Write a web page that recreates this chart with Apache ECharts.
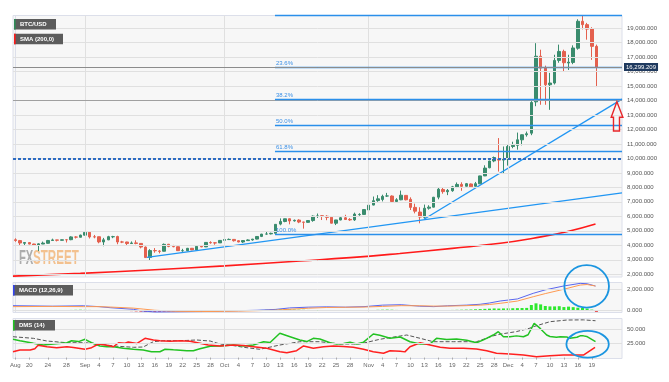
<!DOCTYPE html>
<html><head><meta charset="utf-8">
<script src="https://cdn.jsdelivr.net/npm/echarts@6/dist/echarts.min.js"></script>
<style>html,body{margin:0;padding:0;background:#fff}#c{width:669px;height:382px}</style>
</head><body><div id="c"></div>
<script>
// ---------- DATA ----------
const startDate = '2017-08-17';
const dayCount = 131; // Aug 17 .. Dec 25 (axis room to the right of last candle)
const categories = (function () {
  const out = []; const d = new Date(startDate + 'T00:00:00Z');
  for (let i = 0; i < dayCount; i++) {
    const m = String(d.getUTCMonth() + 1).padStart(2, '0');
    const dd = String(d.getUTCDate()).padStart(2, '0');
    out.push(m + '-' + dd); d.setUTCDate(d.getUTCDate() + 1);
  }
  return out;
})();

// daily candles [open, close, low, high], Aug 17 .. Dec 20
const candles = [
[4384,4331,4243,4484],[4324,4160,4015,4370],[4138,4193,3988,4220],[4189,4087,4069,4197],[4090,4001,3988,4109],
[3999,4101,3603,4137],[4089,4152,4083,4256],[4138,4334,4111,4371],[4333,4372,4300,4459],[4372,4352,4269,4379],
[4345,4382,4330,4403],[4384,4382,4193,4394],[4389,4579,4352,4625],[4570,4565,4471,4626],[4555,4703,4549,4736],
[4701,4892,4678,4910],[4901,4578,4469,4976],[4585,4582,4483,4715],[4592,4236,4139,4600],[4229,4376,3936,4512],
[4376,4597,4360,4655],[4589,4599,4491,4655],[4605,4229,4075,4661],[4229,4226,4150,4308],[4229,4122,3951,4245],
[4123,4162,4096,4268],[4168,4130,4073,4344],[4131,3882,3789,4140],[3875,3154,3140,3921],[3167,3637,2946,3734],
[3637,3625,3487,3808],[3606,3582,3445,3664],[3592,4065,3580,4123],[4073,3924,3868,4094],[3917,3905,3866,4031],
[3901,3631,3613,3916],[3628,3630,3553,3758],[3630,3792,3594,3819],[3796,3682,3666,3810],[3681,3926,3670,3950],
[3928,3892,3869,3969],[3892,4200,3880,4210],[4197,4174,4109,4279],[4171,4163,4039,4214],[4166,4338,4160,4358],
[4341,4403,4269,4410],[4395,4409,4377,4470],[4408,4318,4258,4432],[4319,4229,4210,4352],[4229,4328,4164,4362],
[4324,4370,4320,4413],[4370,4426,4320,4443],[4429,4610,4405,4624],[4615,4773,4569,4790],[4776,4782,4735,4923],
[4789,4826,4751,4873],[4829,5446,4822,5460],[5464,5647,5381,5857],[5643,5831,5591,5837],[5835,5678,5449,5850],
[5687,5725,5636,5776],[5741,5606,5528,5800],[5603,5590,5151,5620],[5584,5709,5561,5745],[5708,6011,5627,6060],
[5996,6031,5886,6194],[6037,6008,5745,6076],[6006,5930,5732,6075],[5936,5526,5508,5950],[5524,5750,5397,5754],
[5747,5904,5730,5971],[5900,5780,5760,6105],[5787,5753,5689,5876],[5754,6153,5684,6255],[6114,6130,6040,6214],
[6132,6468,6103,6480],[6440,6767,6378,6800],[6777,7078,6758,7367],[7087,7207,7002,7461],[7164,7379,7031,7492],
[7404,7407,7333,7617],[7403,7022,7000,7445],[7023,7144,7000,7253],[7141,7459,7114,7776],[7446,7143,7101,7460],
[7173,6618,6436,7312],[6618,6357,6204,6873],[6295,5950,5519,6625],[5938,6559,5844,6811],[6561,6635,6461,6764],
[6634,7316,6620,7342],[7324,7871,7176,7967],[7853,7708,7561,8004],[7697,7790,7463,7884],[7766,8037,7694,8101],
[8039,8201,7949,8336],[8205,8071,7762,8348],[8077,8254,8060,8302],[8233,8038,8020,8268],[8075,8253,8060,8374],
[8241,8790,8230,8800],[8789,9330,8776,9522],[9353,9818,9316,9830],[9823,10058,9736,10125],[9950,9880,9090,11400],
[9880,9960,8980,10820],[9960,10820,9500,10950],[10820,10900,10700,11150],[10900,11280,10600,11780],[11280,11630,10900,11650],
[11630,11700,11500,11850],[11740,13860,11600,13950],[13900,17050,13600,17950],[17050,16230,13700,17500],[16230,15080,13700,16400],
[15080,15200,13350,15900],[15200,16760,15100,17150],[16760,17380,16600,17850],[17380,16600,16000,17500],[16580,16640,16100,17150],
[16620,17620,16500,17800],[17600,19460,17500,19600],[19460,19230,18900,19850],[19230,18920,18190,19350],[18950,17730,16800,19050],
[17730,16299,14920,17850]
];
const lastPrice = 16299.209;

// SMA(200) readings [day index, value]
const smaPoints = [[-0.5,1870],[14,2060],[29,2300],[45,2580],[61.2,2920],[72,3150],[82.7,3440],[94,3790],[104.3,4140],[111.4,4490],[118.6,4940],[124.8,5470]];

// trend lines [day index, value]
const trendLow = [[28.3,3173],[130.5,7624]];
const trendHigh = [[87.9,5796],[130.5,14091]];

// Fibonacci retracement
const fibPct = [0, 23.6, 38.2, 50, 61.8, 100];
const fibHigh = 19850, fibLow = 4750;
const fibStartIdx = 55.85, fibEndIdx = 130.5;
const dottedLevel = 10000;
const grayLevel = 14000;

// y-axis ticks
const mainTicks = [2000,3000,4000,5000,6000,7000,8000,9000,10000,11000,12000,13000,14000,15000,16000,17000,18000,19000];
const macdTicks = [0, 2000];
const dmsTicks = [25, 50];

// MACD (12,26,9)
const macdHist = [60,60,50,50,40,40,50,60,60,50,50,60,70,80,90,80,70,60,60,50,40,40,30,30,20,
 -40,-60,-80,-100,-110,-100,-90,-80,-70,-60,-50,-40,-30,
 10,20,30,40,50,50,60,60,50,50,40,40,40,50,60,70,80,100,120,130,120,110,100,
 90,80,70,60,50,40,30,20,30,40,30,20,10,20,30,40,60,80,90,100,90,70,40,20,0,-20,-30,-20,0,20,40,50,60,70,80,90,100,110,130,150,170,190,210,
 200,210,220,230,240,250,260,530,690,590,440,400,400,420,340,380,330,280,250,200,100,-100];
const macdLine = [[-0.5,470],[8,420],[14.6,460],[18,380],[20.4,280],[25.4,130],[27.5,-40],[30,-120],[35,-100],[40,-80],[44,-40],[48,0],[52,40],[56,120],[59,260],[63,330],[67,360],[71,330],[75,380],[79,520],[83,560],[87,420],[90,380],[93,460],[97,520],[100,600],[102,720],[104.3,906],[108,1100],[111.4,1626],[114,1950],[117.9,2308],[121.5,2560],[123,2520],[124.8,2308]];
const macdSignal = [[-0.5,380],[8,400],[14.6,380],[18,380],[20.4,340],[25.4,240],[27.5,150],[30,40],[35,-60],[40,-80],[44,-70],[48,-40],[52,0],[56,50],[59,130],[63,230],[67,300],[71,320],[75,340],[79,400],[83,470],[87,460],[90,430],[93,430],[97,470],[100,520],[102,580],[104.3,690],[108,900],[111.4,1308],[114,1600],[117.9,2000],[121.5,2400],[123,2450],[124.8,2308]];

// DMS (14)
const diPlus = [[-0.5,32],[1,29.5],[3.9,25],[6,22],[8.2,23.8],[11.1,26],[12.1,29.5],[13.6,28],[15,32],[16.4,26],[18.2,20.3],[19.7,19],[21.1,19],[23.2,16.2],[25.4,14.5],[27.5,13.3],[29.3,10.3],[31.1,10.3],[32.2,14.5],[34,13.5],[36.9,12],[38.3,12],[39.7,15.5],[41.9,20],[44,20.3],[46.9,22],[49.1,20.3],[51.2,22],[53.4,27.8],[54.8,26.5],[56.9,42.5],[59.1,36.5],[61.2,30.8],[62.7,28],[64.1,33.7],[65.5,32.5],[67.7,26],[69.1,23.8],[70.6,24.5],[72,27],[73.4,23.8],[74.9,27],[77,41.3],[78.4,39],[80.6,33.7],[82.8,36],[84.9,27.8],[87.1,23.8],[89.2,23.8],[90.6,33.7],[92.8,31.5],[94.9,32.5],[97.1,30.5],[99.2,26],[100.7,31],[102.8,39.5],[103.9,45.3],[105,36.5],[106.4,36.5],[107.8,38],[109.3,36.5],[110.3,40],[111.6,60],[112.9,51],[114.3,39.5],[115,37],[116.4,35.5],[117.2,36.5],[118.6,36],[119.3,34],[120.8,35.5],[121.5,38],[122.2,38],[122.9,37],[124.8,28]];
const diMinus = [[-0.5,10.3],[1,13.3],[3.2,13.3],[4.2,15.6],[4.9,21.5],[6.8,19],[8.9,17.3],[11.1,19],[12.5,17.5],[15,14.5],[16.4,17.3],[17.9,23.8],[19.7,21.5],[21.1,19],[22.2,26],[23.6,25],[24.3,27.3],[26.1,24.5],[27.9,33.7],[29.7,30.8],[31.1,29.5],[33.3,28.5],[35.4,29.5],[37.6,28.5],[39.7,25],[41.5,22],[44,20.3],[46.9,22],[49.1,21],[51.2,19],[54.1,16.2],[56.9,10.3],[58.4,8.6],[60.5,12],[62,20.3],[64.1,16.2],[66.3,19],[68.4,20.3],[70.6,19.5],[72.7,18],[74.9,14.5],[77,10.3],[79.2,7.5],[80.6,12],[82.8,11],[83.8,10],[84.9,19],[87.1,26],[89.2,22],[91.4,18],[93.5,16.2],[96.4,16.2],[99.2,15],[101.4,12],[103.5,7.5],[106.4,6.3],[109.3,4.5],[112.1,1.6],[115,3.3],[117.9,4.5],[120.7,4.5],[122.2,4.5],[124.7,18]];
const adx = [[-0.5,36.5],[3.9,33.7],[6.8,29],[11.1,26],[15,26],[18.2,23.8],[21.1,20.3],[25.4,18],[27.5,18.5],[29.7,27.8],[31.8,29.5],[34.7,29.5],[36.9,30],[39,30.8],[41.9,29],[44,23.8],[46.9,21],[49.1,18],[52.6,14.5],[56.9,22],[61.2,27.8],[65.5,27.8],[69.8,23.8],[74.1,23.8],[78.4,32],[82.8,37.8],[84.2,39.5],[87.1,33.7],[89.9,27.8],[94.2,27.8],[99.2,27.8],[102.8,38],[104.3,41],[107.8,45.5],[110.5,51],[111.4,54],[115,62.8],[118.6,65.7],[122.2,66],[124.8,64.5]];

// x-axis tick labels
const tickDates = ['08-17','08-20','08-24','08-28','09-01','09-04','09-07','09-10','09-13','09-16','09-19','09-22','09-25','09-28',
 '10-01','10-04','10-07','10-10','10-13','10-16','10-19','10-22','10-25','10-28',
 '11-01','11-04','11-07','11-10','11-13','11-16','11-19','11-22','11-25','11-28',
 '12-01','12-04','12-07','12-10','12-13','12-16','12-19'];
const tickTexts = ['Aug','20','24','28','Sep','4','7','10','13','16','19','22','25','28',
 'Oct','4','7','10','13','16','19','22','25','28',
 'Nov','4','7','10','13','16','19','22','25','28',
 'Dec','4','7','10','13','16','19'];

// ---------- CHART ----------
const FONT = 'Liberation Sans, Arial, sans-serif';
function fmt(v) {
  const neg = v < 0; const s = Math.abs(v).toFixed(3); const p = s.split('.');
  return (neg ? '-' : '') + p[0].replace(/\B(?=(\d{3})+(?!\d))/g, ',') + '.' + p[1];
}
const tickSet = new Set(tickDates);
const monthStarts = categories.map((d, i) => d.endsWith('-01') ? i : -1).filter(i => i >= 0);
const monthLines = monthStarts.map(i => ({ xAxis: i, lineStyle: { color: '#e0e0e0', width: 1, type: 'solid' } }));
const hLines = ticks => ticks.map(v => ({ yAxis: v, lineStyle: { color: '#e0e0e0', width: 1, type: 'solid' } }));

const GL = 13, GW = 609;
const gridBase = { left: GL, width: GW, show: true, backgroundColor: '#f7f7f7', borderColor: '#dcdfea', borderWidth: 1 };
const catAxis = (gi, bottom) => ({
  type: 'category', gridIndex: gi, data: categories, boundaryGap: true,
  axisLine: { show: false },
  axisTick: bottom ? { show: true, alignWithLabel: true, length: 2, lineStyle: { color: '#aaa' }, interval: (i, v) => tickSet.has(v) } : { show: false },
  axisLabel: bottom ? { show: true, fontSize: 6, color: '#666', fontFamily: FONT, margin: 4,
      interval: (i, v) => tickSet.has(v), formatter: v => tickTexts[tickDates.indexOf(v)] } : { show: false },
  splitLine: { show: false }
});
const valX = gi => ({ type: 'value', gridIndex: gi, min: -0.5, max: dayCount - 0.5, show: false, splitLine: { show: false } });
const valY = (gi, min, max, ticks) => ({
  type: 'value', gridIndex: gi, position: 'right', min: min, max: max,
  axisLine: { show: true, lineStyle: { color: '#dcdfea', width: 1 } },
  axisTick: { show: true, length: 4, lineStyle: { color: '#999' }, customValues: ticks },
  axisLabel: { customValues: ticks, formatter: fmt, fontSize: 6, color: '#555', fontFamily: FONT, margin: 5 },
  splitLine: { show: false }
});

const fibLines = fibPct.map(p => {
  const v = fibHigh - p / 100 * (fibHigh - fibLow);
  return [
    { coord: [fibStartIdx, v], lineStyle: { color: '#2a8fea', width: 1.3, type: 'solid' },
      label: { show: p > 0, position: 'insideStartTop', formatter: p.toFixed(1) + '%', color: '#3a8fe6', fontSize: 6, fontFamily: FONT, distance: 1 } },
    { coord: [fibEndIdx, v] }
  ];
});

const option = {
  animation: false,
  backgroundColor: '#ffffff',
  grid: [
    Object.assign({ top: 15.5, height: 261.5 }, gridBase),
    Object.assign({ top: 282.5, height: 30 }, gridBase),
    Object.assign({ top: 318.5, height: 40 }, gridBase)
  ],
  xAxis: [catAxis(0, false), catAxis(1, false), catAxis(2, true), valX(0), valX(1), valX(2)],
  yAxis: [valY(0, 1813, 19860, mainTicks), valY(1, -170, 2640, macdTicks), valY(2, -1.6, 68.4, dmsTicks)],
  series: [
    { type: 'line', name: 'grid-main', xAxisIndex: 3, yAxisIndex: 0, data: [], z: 1,
      markLine: { symbol: 'none', silent: true, animation: false, label: { show: false }, data: hLines(mainTicks).concat(monthLines) } },
    { type: 'line', name: 'sma', xAxisIndex: 3, yAxisIndex: 0, data: smaPoints, smooth: true, showSymbol: false,
      lineStyle: { color: '#ff1a1a', width: 1.6 }, z: 2,
      markLine: { symbol: 'none', silent: true, animation: false, label: { show: false },
        data: [
          { yAxis: grayLevel, lineStyle: { color: '#a0a0a0', width: 1, type: 'solid' } },
          { yAxis: dottedLevel, lineStyle: { color: '#2e6cc2', width: 2, type: [3, 2] } }
        ].concat(fibLines) } },
    { type: 'candlestick', name: 'BTC/USD', xAxisIndex: 0, yAxisIndex: 0, data: candles, barWidth: 3, z: 3,
      itemStyle: { color: '#3a8c6e', color0: '#e4604e', borderColor: '#3a8c6e', borderColor0: '#e4604e', borderWidth: 1 },
      markLine: { symbol: 'none', silent: true, animation: false,
        data: [{ yAxis: lastPrice, lineStyle: { color: '#8c8c8c', width: 1, type: 'solid' },
          label: { show: true, position: 'end', formatter: fmt(lastPrice), backgroundColor: '#1f3a5f', color: '#fff',
            fontSize: 6, fontFamily: FONT, padding: [1, 2], distance: 2 } }] } },
    { type: 'line', name: 'trendLow', xAxisIndex: 3, yAxisIndex: 0, data: trendLow, showSymbol: false, lineStyle: { color: '#2196f3', width: 1.3 }, z: 4 },
    { type: 'line', name: 'trendHigh', xAxisIndex: 3, yAxisIndex: 0, data: trendHigh, showSymbol: false, lineStyle: { color: '#2196f3', width: 1.3 }, z: 4 },
    { type: 'line', name: 'grid-macd', xAxisIndex: 4, yAxisIndex: 1, data: [], z: 1,
      markLine: { symbol: 'none', silent: true, label: { show: false }, data: hLines(macdTicks).concat(monthLines) } },
    { type: 'bar', name: 'hist', xAxisIndex: 1, yAxisIndex: 1, barWidth: 3,
      data: macdHist.map(v => ({ value: v, itemStyle: { color: v >= 0 ? '#2ee82e' : '#e52222' } })) },
    { type: 'line', name: 'macd', xAxisIndex: 4, yAxisIndex: 1, data: macdLine, showSymbol: false, lineStyle: { color: '#5a66ee', width: 1 } },
    { type: 'line', name: 'signal', xAxisIndex: 4, yAxisIndex: 1, data: macdSignal, showSymbol: false, lineStyle: { color: '#ff9a52', width: 1 } },
    { type: 'line', name: 'grid-dms', xAxisIndex: 5, yAxisIndex: 2, data: [], z: 1,
      markLine: { symbol: 'none', silent: true, label: { show: false }, data: hLines(dmsTicks).concat(monthLines) } },
    { type: 'line', name: 'adx', xAxisIndex: 5, yAxisIndex: 2, data: adx, showSymbol: false, lineStyle: { color: '#555', width: 1, type: [4, 2] } },
    { type: 'line', name: 'di+', xAxisIndex: 5, yAxisIndex: 2, data: diPlus, showSymbol: false, lineStyle: { color: '#22c222', width: 1.5 } },
    { type: 'line', name: 'di-', xAxisIndex: 5, yAxisIndex: 2, data: diMinus, showSymbol: false, lineStyle: { color: '#ff2020', width: 1.5 } }
  ]
};
const chart = echarts.init(document.getElementById('c'));
chart.setOption(option);

// ---------- annotations (anchored in data coordinates) ----------
function legendBox(id, x, y, w, text, stripe) {
  return [
    { type: 'rect', id: id + 'bg', z: 50, shape: { x: x, y: y, width: w, height: 10.5 }, style: { fill: '#5c5c5c' } },
    { type: 'rect', id: id + 'st', z: 51, shape: { x: x, y: y, width: 1.6, height: 10.5 }, style: { fill: stripe } },
    { type: 'text', id: id + 'tx', z: 52, x: x + 6, y: y + 5.5, style: { text: text, fill: '#ffffff', font: 'bold 6px ' + FONT, verticalAlign: 'middle' } }
  ];
}
const arrowTip = chart.convertToPixel({ xAxisIndex: 3, yAxisIndex: 0 }, [129.4, 13910]);
const c1 = chart.convertToPixel({ xAxisIndex: 4, yAxisIndex: 1 }, [122.9, 2280]);
const c2 = chart.convertToPixel({ xAxisIndex: 5, yAxisIndex: 2 }, [123.1, 23.3]);
const tx = arrowTip[0], ty = arrowTip[1];
const graphics = [].concat(
  legendBox('l1', 14, 19, 42, 'BTC/USD', '#2e8b57'),
  legendBox('l2', 14, 33.7, 49, 'SMA (200,0)', '#ff1a1a'),
  legendBox('l3', 13, 285, 60, 'MACD (12,26,9)', '#3344ee'),
  legendBox('l4', 13, 320, 42, 'DMS (14)', '#22c222'),
  [
    { type: 'text', id: 'wm1', z: 1, x: 19, y: 258.5, scaleX: 0.56, style: { text: 'FX', fill: '#a3a3a3', font: 'bold 20px ' + FONT, verticalAlign: 'middle', opacity: 0.9 } },
    { type: 'text', id: 'wm2', z: 1, x: 33, y: 258.5, scaleX: 0.58, style: { text: 'STREET', fill: '#f2b77c', font: 'bold 20px ' + FONT, verticalAlign: 'middle', opacity: 0.85 } },
    { type: 'polygon', id: 'arrow', z: 60, shape: { points: [[tx, ty], [tx + 6, ty + 15.6], [tx + 2.6, ty + 15.6], [tx + 2.6, ty + 29.3], [tx - 3.4, ty + 29.3], [tx - 3.4, ty + 15.6], [tx - 5.7, ty + 15.6]] },
      style: { fill: 'none', stroke: '#e8262a', lineWidth: 1.4 } },
    { type: 'ellipse', id: 'circ1', z: 60, shape: { cx: c1[0], cy: c1[1], rx: 22.3, ry: 21.3 }, style: { fill: 'none', stroke: '#1b95e0', lineWidth: 1.8 } },
    { type: 'ellipse', id: 'circ2', z: 60, shape: { cx: c2[0], cy: c2[1], rx: 21.2, ry: 13.3 }, style: { fill: 'none', stroke: '#1b95e0', lineWidth: 1.8 } }
  ]
);
chart.setOption({ graphic: graphics });
</script>
</body></html>
